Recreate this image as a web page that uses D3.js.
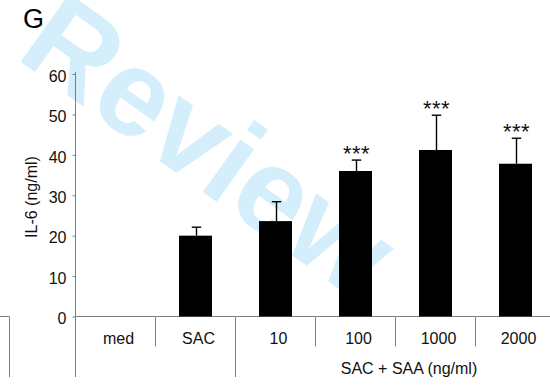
<!DOCTYPE html>
<html>
<head>
<meta charset="utf-8">
<script src="https://cdn.jsdelivr.net/npm/d3@7/dist/d3.min.js"></script>
<style>
  html, body { margin: 0; padding: 0; background: #fff; }
  svg { display: block; font-family: "Liberation Sans", Arial, Helvetica, sans-serif; }
</style>
</head>
<body>
<svg id="chart" width="550" height="385"></svg>
<script>
// IL-6 secretion per stimulation condition
const categories = ["med", "SAC", "10", "100", "1000", "2000"];
const means      = [0, 20.0, 23.6, 36.0, 41.2, 37.8];
const errors     = [0, 2.1, 4.8, 2.7, 8.6, 6.3];
const marks      = ["", "", "", "***", "***", "***"];
const yTicks     = [0, 10, 20, 30, 40, 50, 60];
const panelLabel = "G";
const yTitle     = "IL-6 (ng/ml)";
const groupTitle = "SAC + SAA (ng/ml)";

const svg = d3.select("#chart");
const axisColor = "#7f7f7f";

const x0 = 75.5, y0 = 316.5, yTop = 74, xEnd = 555.5, lineBottom = 377;

// watermark sits behind the plot
svg.append("text")
  .attr("transform", "translate(210,144) rotate(35.5)")
  .attr("text-anchor", "middle")
  .attr("y", 43)
  .attr("font-size", 122)
  .attr("font-weight", "bold")
  .attr("fill", "#d4effb")
  .text("Review");

const x = d3.scaleBand().domain(categories).range([x0, xEnd]).paddingInner(0).paddingOuter(0);
const y = d3.scaleLinear().domain([0, 60]).range([y0, yTop]);

// panel letter
svg.append("text").attr("x", 23).attr("y", 28).attr("font-size", 27).attr("fill", "#000").text(panelLabel);

// y axis
const yAxis = d3.axisLeft(y).tickValues(yTicks).tickSize(3).tickPadding(6).tickFormat(d3.format("d"));
const gy = svg.append("g").attr("transform", `translate(${x0},0)`).call(yAxis);
gy.select(".domain").remove();
gy.selectAll(".tick line").attr("stroke", axisColor);
gy.selectAll(".tick text").attr("font-size", 16).attr("fill", "#111").attr("font-family", null).attr("dy", "0.45em");

// axis lines
svg.append("line").attr("x1", x0).attr("x2", x0).attr("y1", yTop - 2).attr("y2", lineBottom).attr("stroke", axisColor);
svg.append("line").attr("x1", x0).attr("x2", 550).attr("y1", y0).attr("y2", y0).attr("stroke", axisColor);

// category separators
categories.forEach((c, i) => {
  if (i === 0) return;
  const xs = x(c);
  const isGroupEdge = c === "10";
  svg.append("line").attr("x1", xs).attr("x2", xs).attr("y1", y0)
    .attr("y2", isGroupEdge ? lineBottom : 346.5).attr("stroke", axisColor);
});

// neighbouring panel frame edge at the far left
svg.append("line").attr("x1", 0).attr("x2", 9.5).attr("y1", y0).attr("y2", y0).attr("stroke", axisColor);
svg.append("line").attr("x1", 9.5).attr("x2", 9.5).attr("y1", y0).attr("y2", lineBottom).attr("stroke", axisColor);

// bars
const barW = 33;
const data = categories.map((c, i) => ({ c, m: means[i], e: errors[i], s: marks[i] }));
const drawn = data.filter(d => d.m > 0);

svg.selectAll("rect.bar").data(drawn).join("rect")
  .attr("class", "bar")
  .attr("x", d => x(d.c) + x.bandwidth() / 2 - barW / 2)
  .attr("width", barW)
  .attr("y", d => y(d.m))
  .attr("height", d => y(0) - y(d.m))
  .attr("fill", "#000");

// error bars (upper only)
const capW = 9.5;
const eb = svg.selectAll("g.err").data(drawn).join("g").attr("class", "err");
eb.append("line")
  .attr("x1", d => x(d.c) + x.bandwidth() / 2 + 1).attr("x2", d => x(d.c) + x.bandwidth() / 2 + 1)
  .attr("y1", d => y(d.m)).attr("y2", d => y(d.m + d.e))
  .attr("stroke", "#000").attr("stroke-width", 1.4);
eb.append("line")
  .attr("x1", d => x(d.c) + x.bandwidth() / 2 + 1 - capW / 2).attr("x2", d => x(d.c) + x.bandwidth() / 2 + 1 + capW / 2)
  .attr("y1", d => y(d.m + d.e)).attr("y2", d => y(d.m + d.e))
  .attr("stroke", "#000").attr("stroke-width", 1.4);

// significance marks
svg.selectAll("text.sig").data(drawn.filter(d => d.s)).join("text")
  .attr("class", "sig")
  .attr("x", d => x(d.c) + x.bandwidth() / 2 + 1)
  .attr("y", d => y(d.m + d.e) + 0.5)
  .attr("text-anchor", "middle")
  .attr("font-size", 22)
  .attr("letter-spacing", 0.5)
  .attr("fill", "#111")
  .text(d => d.s);

// category labels
svg.selectAll("text.cat").data(categories).join("text")
  .attr("class", "cat")
  .attr("x", d => x(d) + x.bandwidth() / 2 + 3)
  .attr("y", 344)
  .attr("text-anchor", "middle")
  .attr("font-size", 16)
  .attr("fill", "#111")
  .text(d => d);

// group title
svg.append("text").attr("x", 409).attr("y", 374).attr("text-anchor", "middle")
  .attr("font-size", 16).attr("fill", "#111").text(groupTitle);

// y title
svg.append("text").attr("transform", "translate(37,197) rotate(-90)")
  .attr("text-anchor", "middle").attr("font-size", 16).attr("fill", "#111").text(yTitle);
</script>
</body>
</html>
